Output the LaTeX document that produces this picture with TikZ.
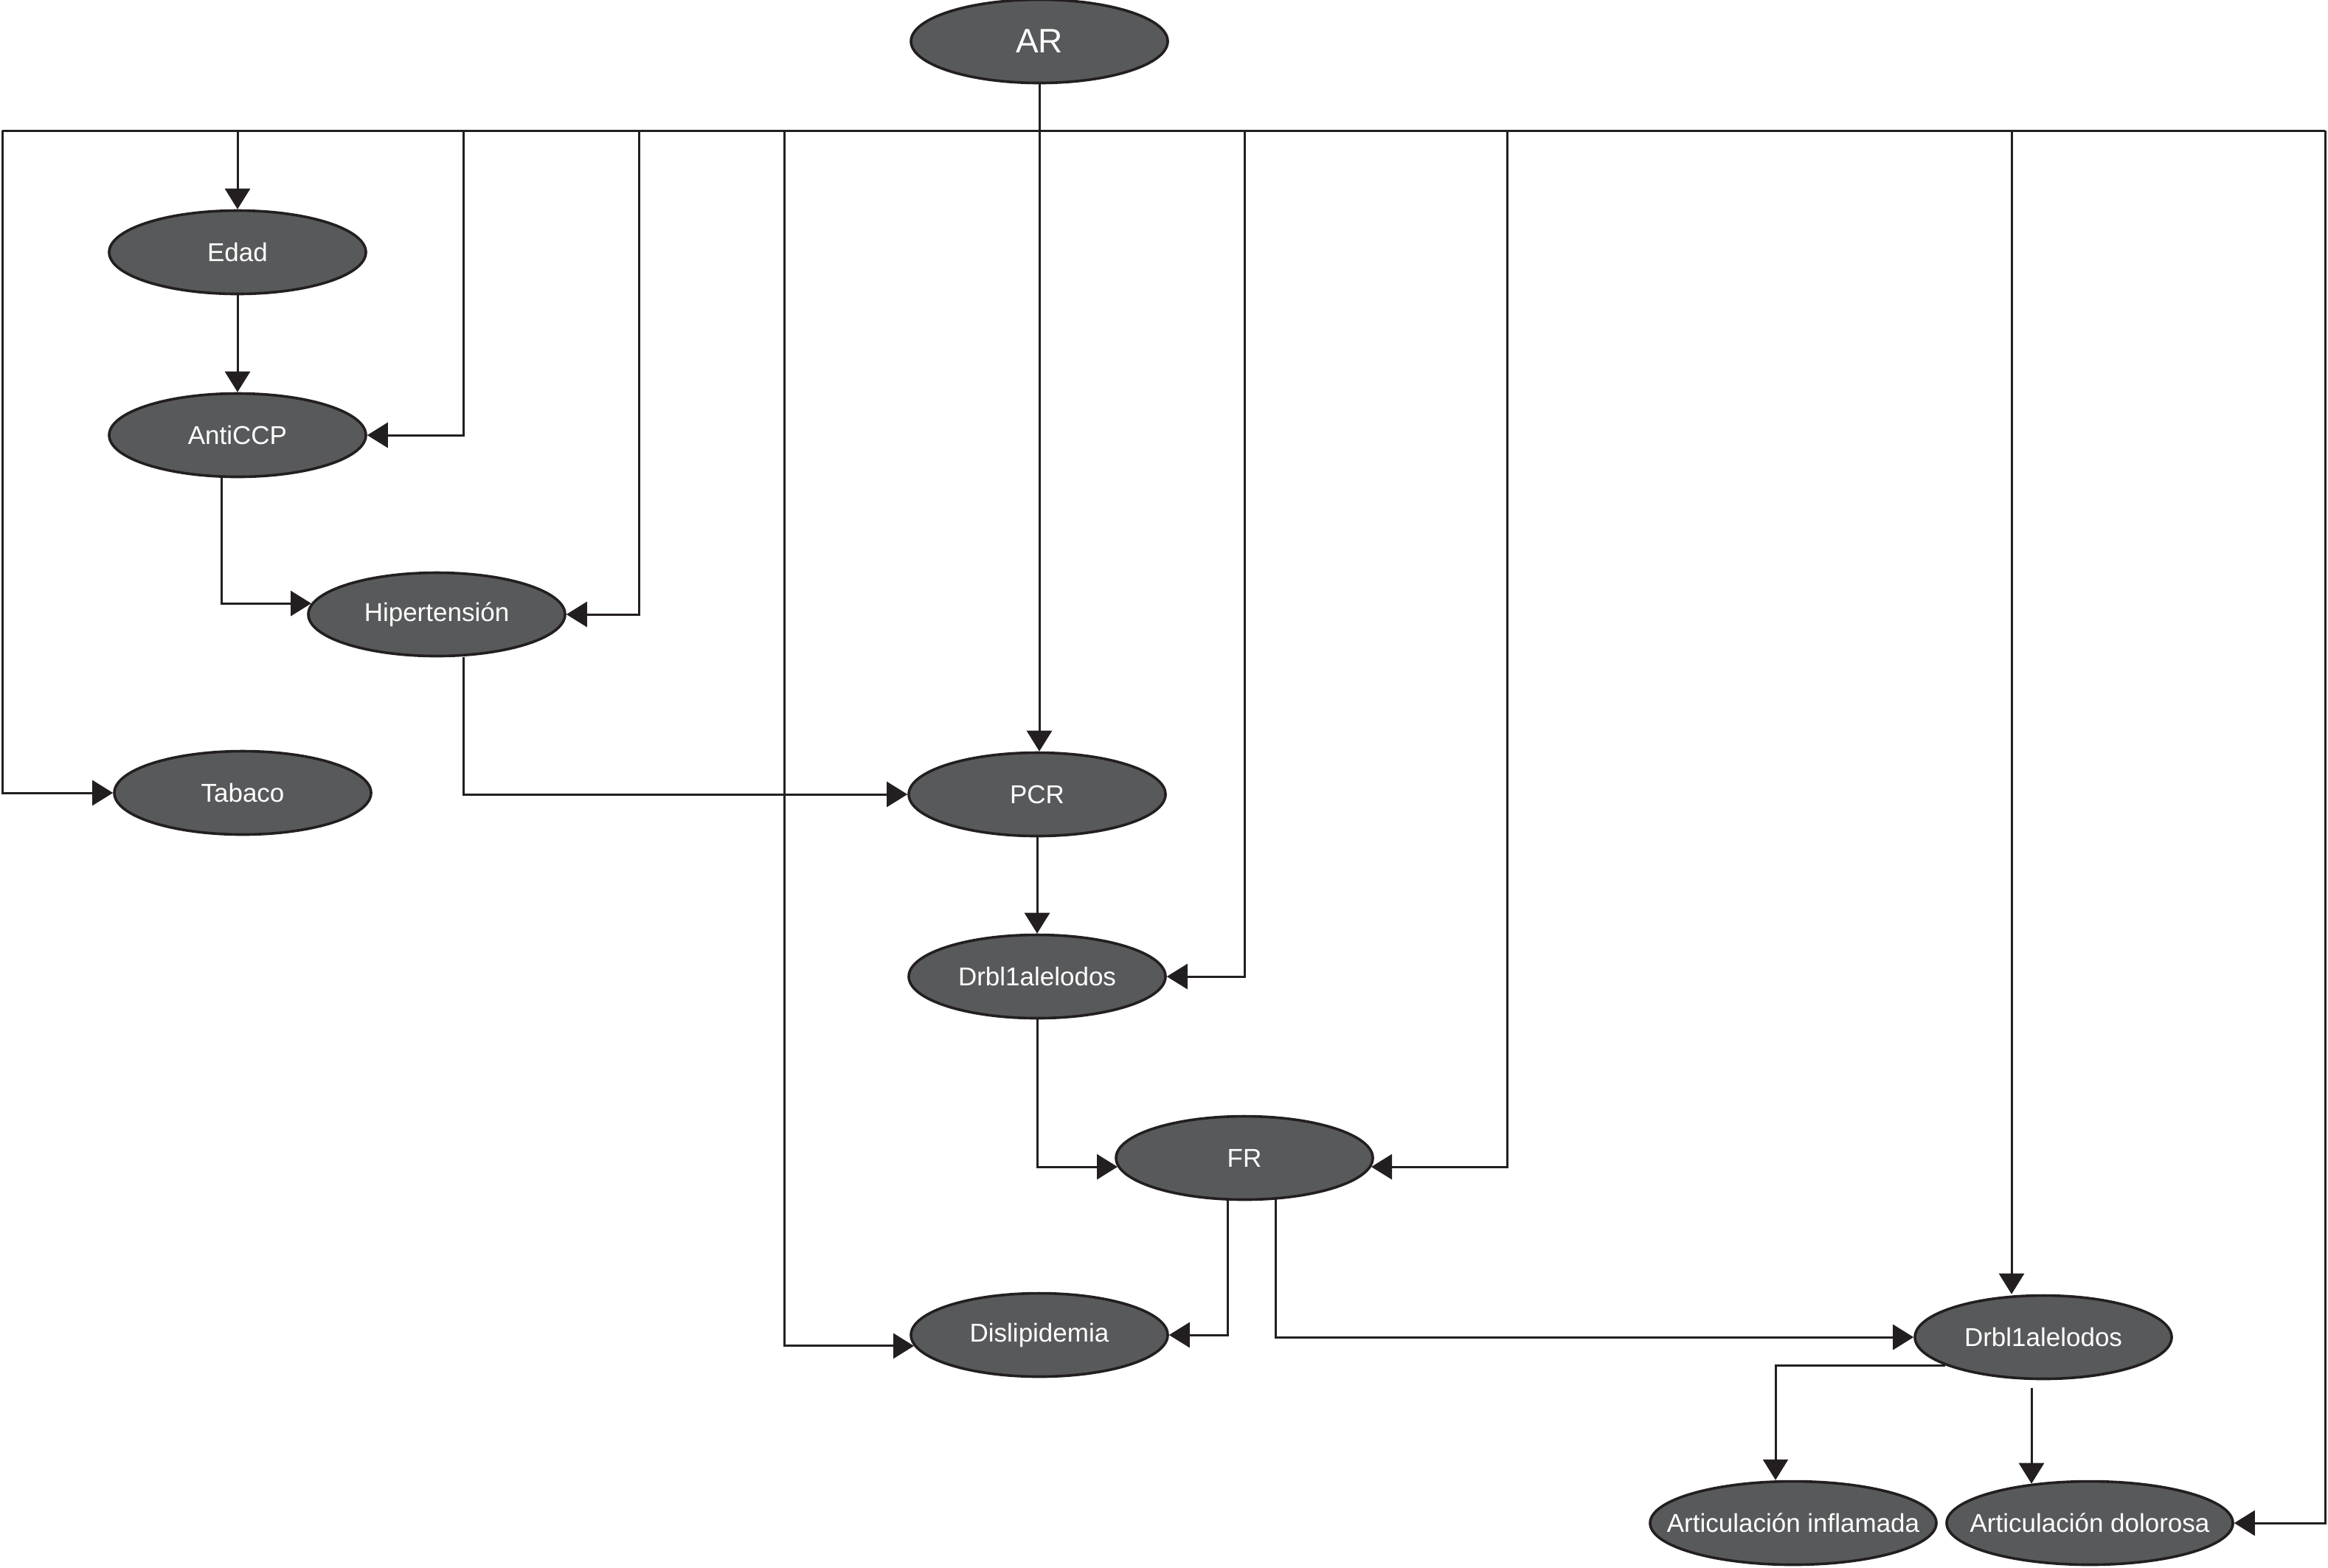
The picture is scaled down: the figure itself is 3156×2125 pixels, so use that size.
\documentclass[tikz,border=0pt]{standalone}
\usepackage{fontspec}
\setmainfont{Liberation Sans}
\usetikzlibrary{arrows.meta,calc,shapes.geometric}
\definecolor{nodefill}{RGB}{88,89,91}
\definecolor{ink}{RGB}{35,31,32}
\newcommand{\nlbl}[1]{\makebox[0pt]{#1}}
\begin{document}
\begin{tikzpicture}[x=0.25pt,y=-0.25pt,
  var/.style={ellipse, draw=ink, line width=0.9pt, fill=nodefill, text=white,
    inner sep=0pt, minimum width=87pt, minimum height=28.25pt,
    font=\fontsize{8.75}{10}\selectfont},
  widevar/.style={var, minimum width=97pt},
  arr/.style={draw=ink, line width=0.75pt, -{Triangle[length=7pt,width=8.5pt]}},
  ln/.style={draw=ink, line width=0.75pt}]
\useasboundingbox (0,0) rectangle (3156,2125);

% nodes
\node[var, font=\fontsize{11.5}{13}\selectfont] (AR) at (1409,56) {\nlbl{AR}};
\node[var] (Edad) at (322,342) {\nlbl{Edad}};
\node[var] (AntiCCP) at (322,590) {\nlbl{AntiCCP}};
\node[var] (Hip) at (592,833) {\nlbl{Hipertensión}};
\node[var] (Tab) at (329,1075) {\nlbl{Tabaco}};
\node[var] (PCR) at (1406,1077) {\nlbl{PCR}};
\node[var] (D1) at (1406,1324) {\nlbl{Drbl1alelodos}};
\node[var] (FR) at (1687,1570) {\nlbl{FR}};
\node[var] (Disl) at (1409,1810) {\nlbl{Dislipidemia}};
\node[var] (D2) at (2770,1813) {\nlbl{Drbl1alelodos}};
\node[widevar] (ArtI) at (2431,2065) {\nlbl{Articulación inflamada}};
\node[widevar] (ArtD) at (2833,2065) {\nlbl{Articulación dolorosa}};

% top bar
\coordinate (barL) at (3,177);
\coordinate (barR) at (3152,177);
\coordinate (bAnti) at (628,177);
\coordinate (bHip) at (866,177);
\coordinate (bDis) at (1063,177);
\coordinate (bD1) at (1687,177);
\coordinate (bFR) at (2043,177);
\coordinate (bD2) at (2727,177);
\draw[ln] (barL) -- (barR);

% connectors from the bar
\draw[arr] (barL) |- (Tab.west);
\draw[arr] (Edad.north |- barL) -- (Edad.north);
\draw[arr] (bAnti) |- (AntiCCP.east);
\draw[arr] (bHip) |- (Hip.east);
\draw[arr] (bDis) |- (Disl.185);
\draw[arr] (bD1) |- (D1.east);
\draw[arr] (bFR) |- (FR.-4);
\draw[arr] (bD2) -- (bD2 |- D2.north);
\draw[arr] (barR) |- (ArtD.east);
\draw[arr] (AR.south) -- (AR.south |- PCR.north);

% other connectors
\draw[arr] (Edad) -- (AntiCCP);
\draw[arr] ($(AntiCCP.south)+(-22,0)$) |- (Hip.175);
\draw[arr] ($(Hip.south)+(36,0)$) |- (PCR.west);
\draw[arr] (PCR) -- (D1);
\draw[arr] (D1.south) |- (FR.184);
\draw[arr] ($(FR.south)+(-23,0)$) |- (Disl.east);
\draw[arr] ($(FR.south)+(42,-2)$) |- (D2.west);
\draw[arr] (D2.196) -| ($(ArtI.north)+(-24,0)$);
\coordinate (d2a) at ($(D2.south)+(-16,11)$);
\draw[arr] (d2a) -- (d2a |- ArtD.146);
\end{tikzpicture}
\end{document}
